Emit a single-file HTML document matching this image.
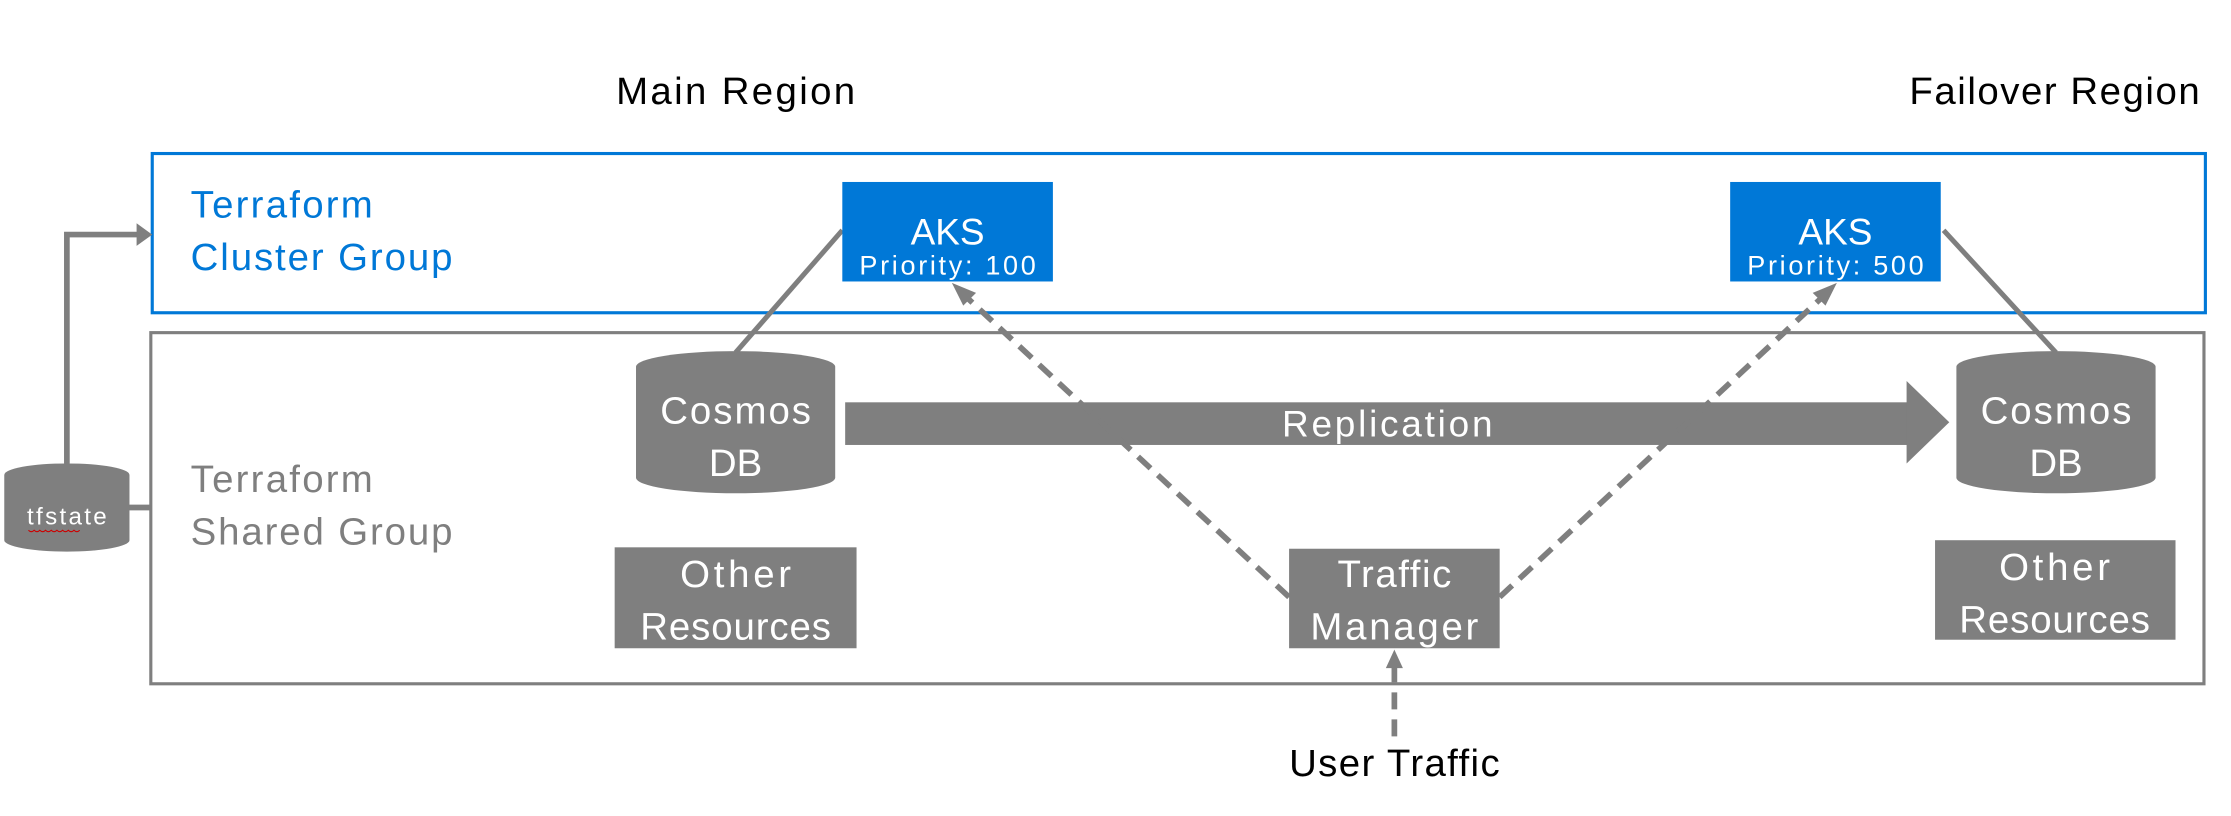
<!DOCTYPE html>
<html><head><meta charset="utf-8"><style>
html,body{margin:0;padding:0;background:#fff;}
svg{display:block;}
text{font-family:"Liberation Sans",sans-serif;}
</style></head><body>
<svg width="2231" height="816" viewBox="0 0 1568 574" preserveAspectRatio="none" xmlns="http://www.w3.org/2000/svg">
<rect width="1568" height="574" fill="#fff"/>
<text x="517" y="73" font-size="27" text-anchor="middle" fill="#000" textLength="168">Main Region</text>
<text x="1444" y="73" font-size="27" text-anchor="middle" fill="#000" textLength="204">Failover Region</text>

<rect x="107" y="108" width="1443" height="112" fill="none" stroke="#0078d7" stroke-width="2.2"/>
<rect x="106" y="234" width="1443" height="247" fill="none" stroke="#7f7f7f" stroke-width="2.2"/>

<text x="134" y="153" font-size="27" fill="#0078d7" textLength="128">Terraform</text>
<text x="134" y="190" font-size="27" fill="#0078d7" textLength="184">Cluster Group</text>
<text x="134" y="346" font-size="27" fill="#7f7f7f" textLength="128">Terraform</text>
<text x="134" y="383" font-size="27" fill="#7f7f7f" textLength="184">Shared Group</text>

<!-- tfstate -->
<path d="M47 326 V165 H98" fill="none" stroke="#7f7f7f" stroke-width="4"/>
<polygon points="96,157 107,165 96,173" fill="#7f7f7f"/>
<line x1="89" y1="357" x2="106" y2="357" stroke="#7f7f7f" stroke-width="4"/>
<path d="M3 334 A44 8 0 0 1 91 334 V380 A44 8 0 0 1 3 380 Z" fill="#7f7f7f"/>
<text x="47" y="369" font-size="17" fill="#fff" text-anchor="middle" textLength="56">tfstate</text>
<path d="M20 373 q2 2 4 0 q2 2 4 0 q2 2 4 0 q2 2 4 0 q2 2 4 0 q2 2 4 0 q2 2 4 0 q2 2 4 0 q2 2 4 0" fill="none" stroke="#c00" stroke-width="0.8"/>

<!-- solid connectors -->
<line x1="592" y1="162" x2="517" y2="248" stroke="#7f7f7f" stroke-width="3.5"/>
<line x1="1366" y1="162" x2="1445" y2="248" stroke="#7f7f7f" stroke-width="3.5"/>

<!-- replication -->
<rect x="594" y="283" width="748" height="30" fill="#7f7f7f"/>
<polygon points="1340,268 1370,297 1340,326" fill="#7f7f7f"/>
<text x="975" y="307" font-size="26" fill="#fff" text-anchor="middle" textLength="148">Replication</text>

<!-- dashed -->
<line x1="906" y1="420" x2="676" y2="206" stroke="#7f7f7f" stroke-width="4" stroke-dasharray="12,7"/>
<polygon points="669,199 686,206 677,215" fill="#7f7f7f"/>
<line x1="1054" y1="420" x2="1284" y2="206" stroke="#7f7f7f" stroke-width="4" stroke-dasharray="12,7"/>
<polygon points="1291,199 1274,206 1283,215" fill="#7f7f7f"/>
<line x1="980" y1="518" x2="980" y2="467" stroke="#7f7f7f" stroke-width="4" stroke-dasharray="12,7"/>
<polygon points="980,457 974,470 986,470" fill="#7f7f7f"/>
<text x="980" y="546" font-size="27" fill="#000" text-anchor="middle" textLength="148">User Traffic</text>

<!-- AKS -->
<rect x="592" y="128" width="148" height="70" fill="#0078d7"/>
<text x="666" y="172" font-size="26" fill="#fff" text-anchor="middle">AKS</text>
<text x="666" y="193" font-size="19" fill="#fff" text-anchor="middle" textLength="124">Priority: 100</text>
<rect x="1216" y="128" width="148" height="70" fill="#0078d7"/>
<text x="1290" y="172" font-size="26" fill="#fff" text-anchor="middle">AKS</text>
<text x="1290" y="193" font-size="19" fill="#fff" text-anchor="middle" textLength="124">Priority: 500</text>

<!-- Cosmos -->
<path d="M447 258 A70 11 0 0 1 587 258 V336 A70 11 0 0 1 447 336 Z" fill="#7f7f7f"/>
<text x="517" y="298" font-size="27" fill="#fff" text-anchor="middle" textLength="106">Cosmos</text>
<text x="517" y="335" font-size="27" fill="#fff" text-anchor="middle">DB</text>
<path d="M1375 258 A70 11 0 0 1 1515 258 V336 A70 11 0 0 1 1375 336 Z" fill="#7f7f7f"/>
<text x="1445" y="298" font-size="27" fill="#fff" text-anchor="middle" textLength="106">Cosmos</text>
<text x="1445" y="335" font-size="27" fill="#fff" text-anchor="middle">DB</text>

<!-- Other resources -->
<rect x="432" y="385" width="170" height="71" fill="#7f7f7f"/>
<text x="517" y="413" font-size="27" fill="#fff" text-anchor="middle" textLength="78">Other</text>
<text x="517" y="450" font-size="27" fill="#fff" text-anchor="middle" textLength="134">Resources</text>
<rect x="1360" y="380" width="169" height="70" fill="#7f7f7f"/>
<text x="1444" y="408" font-size="27" fill="#fff" text-anchor="middle" textLength="78">Other</text>
<text x="1444" y="445" font-size="27" fill="#fff" text-anchor="middle" textLength="134">Resources</text>

<!-- Traffic Manager -->
<rect x="906" y="386" width="148" height="70" fill="#7f7f7f"/>
<text x="980" y="413" font-size="27" fill="#fff" text-anchor="middle" textLength="80">Traffic</text>
<text x="980" y="450" font-size="27" fill="#fff" text-anchor="middle" textLength="118">Manager</text>
</svg>
</body></html>
